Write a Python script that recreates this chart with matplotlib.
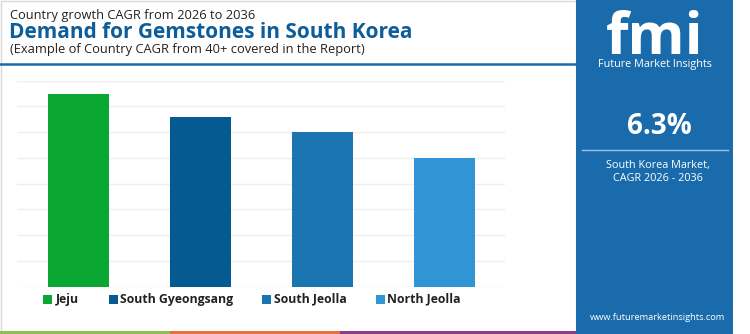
import matplotlib
matplotlib.use("Agg")
import matplotlib.pyplot as plt
from matplotlib.patches import Rectangle

regions = ["Jeju", "South Gyeongsang", "South Jeolla", "North Jeolla"]
cagr = [7.5, 6.6, 6.0, 5.0]
bar_colors = ["#0aa832", "#065a92", "#1b75b0", "#3194d4"]
national_cagr = "6.3%"

W, H = 750, 334
fig = plt.figure(figsize=(W / 100, H / 100), dpi=100)
fig.patch.set_facecolor("white")

font = "Open Sans"

def px(x, y):
    return x / W, 1 - y / H

# frame around chart area
fig.add_artist(Rectangle(px(0.5, 332), 575 / W, 331 / H, transform=fig.transFigure,
                         fill=False, edgecolor="#d9d9d9", linewidth=1))

# header texts
fig.text(*px(10, 15), "Country growth CAGR from 2026 to 2036", fontsize=9.3,
         family=font, color="#222222", va="center", ha="left")
fig.text(*px(9, 33), "Demand for Gemstones in South Korea", fontsize=15,
         family=font, weight="bold", color="#0d5d9a", va="center", ha="left")
fig.text(*px(10, 50), "(Example of Country CAGR from 40+ covered in the Report)", fontsize=9.3,
         family=font, color="#222222", va="center", ha="left")
fig.add_artist(plt.Line2D([0, 576 / W], [1 - 64 / H] * 2, transform=fig.transFigure,
                          color="#1a6bab", linewidth=1.8))

# bottom colour strip
for x0, x1, c in [(0, 170, "#8cc152"), (170, 340, "#e8703a"), (340, 576, "#8e3b8c")]:
    fig.add_artist(Rectangle(px(x0, 334), (x1 - x0) / W, 3.5 / H, transform=fig.transFigure,
                             facecolor=c, edgecolor="none"))

# bar chart
ax = fig.add_axes([17.3 / W, 1 - 286.7 / H, (505 - 17.3) / W, (286.7 - 80.7) / H])
x = range(len(regions))
ax.bar(x, cagr, width=0.5, color=bar_colors, zorder=3)
ax.set_xlim(-0.5, 3.5)
ax.set_ylim(0, 8)
ax.set_yticks(range(0, 9))
ax.grid(axis="y", color="#eeeeee", linewidth=1, zorder=0)
ax.set_xticks([])
ax.tick_params(left=False, labelleft=False)
for s in ax.spines.values():
    s.set_visible(False)

# legend
legend_pos = [(43, 56), (109, 120), (262, 274), (376, 387)]
for (sx, tx), name, c in zip(legend_pos, regions, bar_colors):
    fig.add_artist(Rectangle(px(sx, 303.5), 8.5 / W, 8.5 / H, transform=fig.transFigure,
                             facecolor=c, edgecolor="none"))
    fig.text(*px(tx, 299), name, fontsize=8.8, family=font, weight="bold",
             color="#222222", va="center", ha="left")

# right panel
fig.add_artist(Rectangle(px(576, 334), (733 - 576) / W, 334 / H, transform=fig.transFigure,
                         facecolor="#1a6bab", edgecolor="none"))
cx = 655 / W
fig.text(cx, 1 - 54 / H, "fmi", fontsize=42, family=font, weight="bold", color="white",
         ha="center", va="baseline")
for yy in range(16, 56, 5):
    fig.add_artist(plt.Line2D([596 / W, 714 / W], [1 - yy / H] * 2, transform=fig.transFigure,
                              color="#1a6bab", linewidth=1.2))
fig.text(cx, 1 - 65 / H, "Future Market Insights", fontsize=7.8, family=font,
         color="white", ha="center", va="center")
fig.text(659 / W, 1 - 127 / H, national_cagr, fontsize=20, family=font, weight="bold",
         color="white", ha="center", va="center")
fig.add_artist(plt.Line2D([582 / W, 728 / W], [1 - 150 / H] * 2, transform=fig.transFigure,
                          color="#9cc3e6", linewidth=1))
fig.text(658 / W, 1 - 165 / H, "South Korea Market,", fontsize=7.8, family=font,
         color="white", ha="center", va="center")
fig.text(658 / W, 1 - 179 / H, "CAGR 2026 - 2036", fontsize=7.8, family=font,
         color="white", ha="center", va="center")
fig.text(658 / W, 1 - 318 / H, "www.futuremarketinsights.com", fontsize=6.7, family=font,
         color="white", ha="center", va="center")

fig.savefig("out.png", dpi=100, facecolor="white")
